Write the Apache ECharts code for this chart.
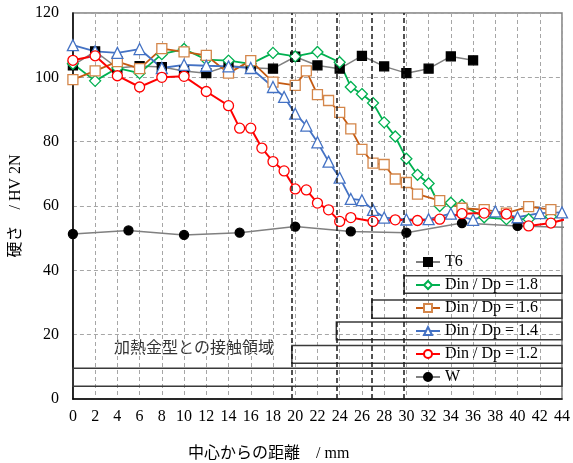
<!DOCTYPE html>
<html>
<head>
<meta charset="utf-8">
<script src="https://cdn.jsdelivr.net/npm/echarts@6/dist/echarts.min.js"></script>
<style>
  html, body { margin: 0; padding: 0; background: #fff; }
  #chart { width: 573px; height: 463px; }
</style>
</head>
<body>
<div id="chart"></div>
<script>
// Hardness profiles along the distance from the centre (mm → HV 2N)
const xT6 = [0, 2, 4, 6, 8, 10, 12, 14, 16, 18, 20, 22, 24, 26, 28, 30, 32, 34, 36];
const hT6 = [103.7, 108.1, 102.9, 103.5, 103.2, 102.0, 101.3, 103.6, 103.0, 102.7, 106.4, 103.7, 102.7, 106.7, 103.4, 101.3, 102.7, 106.5, 105.3];

const x18 = [0, 2, 4, 6, 8, 10, 12, 14, 16, 18, 20, 22, 24, 25, 26, 27, 28, 29, 30, 31, 32, 33, 34, 35, 37, 39, 41, 43];
const h18 = [104.2, 98.9, 102.9, 101.3, 107.2, 108.8, 105.5, 105.2, 104.2, 107.6, 106.5, 107.9, 104.7, 97.0, 94.8, 92.0, 86.0, 81.6, 74.7, 69.7, 67.0, 60.0, 61.0, 60.3, 56.5, 55.9, 55.9, 56.7];

const x16 = [0, 2, 4, 6, 8, 10, 12, 14, 16, 18, 20, 21, 22, 23, 24, 25, 26, 27, 28, 29, 30, 31, 33, 35, 37, 39, 41, 43];
const h16 = [99.3, 102.0, 104.9, 102.7, 108.9, 107.9, 106.8, 101.3, 105.2, 98.5, 97.5, 102.0, 94.6, 92.8, 89.1, 84.0, 77.6, 73.3, 72.9, 68.4, 67.3, 63.7, 61.7, 59.3, 58.9, 57.8, 59.8, 58.9];

const x14 = [0, 2, 4, 6, 8, 10, 12, 14, 16, 18, 19, 20, 21, 22, 23, 24, 25, 26, 27, 28, 30, 32, 34, 36, 38, 40, 42, 44];
const h14 = [110.0, 108.1, 107.6, 108.8, 102.9, 103.9, 103.6, 103.4, 102.9, 97.0, 93.9, 88.7, 85.0, 79.8, 73.8, 68.8, 62.2, 61.8, 58.8, 56.4, 55.8, 55.9, 57.6, 55.7, 58.3, 56.5, 57.8, 58.0];

const x12 = [0, 2, 4, 6, 8, 10, 12, 14, 15, 16, 17, 18, 19, 20, 21, 22, 23, 24, 25, 27, 29, 31, 33, 35, 37, 39, 41, 43, 45];
const h12 = [105.3, 106.7, 100.5, 97.0, 100.0, 100.3, 95.6, 91.2, 84.2, 84.2, 78.0, 73.8, 70.9, 65.3, 65.0, 60.9, 58.8, 55.2, 56.4, 55.2, 55.7, 55.5, 55.9, 57.6, 57.8, 57.5, 53.8, 54.7, 56.5];

const xW = [0, 5, 10, 15, 20, 25, 30, 35, 40, 45];
const hW = [51.3, 52.4, 51.0, 51.7, 53.6, 52.1, 51.7, 54.7, 53.8, 53.3];

// Start of the contact region with the heated die, per Din/Dp ratio (1.2, 1.4, 1.6, 1.8)
const contactStart = [19.7, 23.7, 26.9, 29.8];

const seriesNames = ['T6', 'Din / Dp = 1.8', 'Din / Dp = 1.6', 'Din / Dp = 1.4', 'Din / Dp = 1.2', 'W'];

// Vertical bands (in HV units) of the frames drawn behind the legend rows
const frameBands = {
  'Din / Dp = 1.8': [32.9, 38.3],
  'Din / Dp = 1.6': [25.1, 30.8],
  'Din / Dp = 1.4': [18.4, 23.9],
  'Din / Dp = 1.2': [11.1, 16.6],
  'W': [4.0, 9.55]
};

const pair = (xs, ys) => xs.map((x, i) => [x, ys[i]]);

const serif = '"Liberation Serif", "DejaVu Serif", serif';

function lineSeries(name, xs, ys, lineColor, symbol, size, fill, border, width) {
  return {
    name, type: 'line', data: pair(xs, ys),
    symbol, symbolSize: size,
    lineStyle: { color: lineColor, width: width },
    itemStyle: { color: fill, borderColor: border, borderWidth: 1.3 },
    clip: true, animation: false, z: 3
  };
}

const frames = [
  [{ coord: [contactStart[3], frameBands['Din / Dp = 1.8'][0]] }, { coord: [44, frameBands['Din / Dp = 1.8'][1]] }],
  [{ coord: [contactStart[2], frameBands['Din / Dp = 1.6'][0]] }, { coord: [44, frameBands['Din / Dp = 1.6'][1]] }],
  [{ coord: [contactStart[1], frameBands['Din / Dp = 1.4'][0]] }, { coord: [44, frameBands['Din / Dp = 1.4'][1]] }],
  [{ coord: [contactStart[0], frameBands['Din / Dp = 1.2'][0]] }, { coord: [44, frameBands['Din / Dp = 1.2'][1]] }],
  [{ coord: [0, frameBands['W'][0]] }, { coord: [44, frameBands['W'][1]] }]
];

const chart = echarts.init(document.getElementById('chart'), null, { renderer: 'canvas' });

chart.setOption({
  animation: false,
  backgroundColor: '#fff',
  grid: {
    left: 70, top: 13, right: 9, bottom: 64,
    show: true, borderColor: '#7f7f7f', borderWidth: 1.5, backgroundColor: 'transparent'
  },
  xAxis: {
    type: 'value', min: 0, max: 44, interval: 2,
    axisLine: { show: true, onZero: false, lineStyle: { color: '#000', width: 1.5 } },
    axisTick: { show: false },
    axisLabel: { color: '#000', fontFamily: serif, fontSize: 16, margin: 10 },
    splitLine: { show: true, lineStyle: { color: '#a6a6a6', type: [4, 3], width: 1 } }
  },
  yAxis: {
    type: 'value', min: 0, max: 120, interval: 20,
    name: '硬さ　/ HV 2N', nameLocation: 'middle', nameGap: 45, nameRotate: 90,
    nameTextStyle: { color: '#000', fontFamily: '"Liberation Serif", "Noto Sans CJK JP", serif', fontSize: 16 },
    axisLine: { show: true, onZero: false, lineStyle: { color: '#000', width: 1.5 } },
    axisTick: { show: false },
    axisLabel: { color: '#000', fontFamily: serif, fontSize: 16, margin: 14 },
    splitLine: { show: true, lineStyle: { color: '#a6a6a6', type: [4, 3], width: 1 } }
  },
  legend: {
    data: seriesNames,
    orient: 'vertical', left: 415, top: 254, padding: 0,
    itemWidth: 24, itemHeight: 10, itemGap: 7, itemTextGap: 4,
    textStyle: { color: '#000', fontFamily: serif, fontSize: 16, lineHeight: 16 },
    selectedMode: false
  },
  graphic: [
    {
      type: 'text', left: 114, top: 339, silent: true,
      style: { text: '加熱金型との接触領域', fill: '#333', font: '16px "Noto Sans CJK JP"' }
    },
    {
      type: 'text', left: 188, top: 446, silent: true,
      style: { text: '中心からの距離　/ mm', fill: '#000', font: '16px "Liberation Serif", "Noto Sans CJK JP"' }
    }
  ],
  series: [
    {
      name: 'frames', type: 'line', data: [], silent: true, z: 2,
      markArea: {
        silent: true,
        itemStyle: { color: 'rgba(0,0,0,0)', borderColor: '#3a3a3a', borderWidth: 1.5 },
        label: { show: false },
        data: frames
      },
      markLine: {
        silent: true, symbol: ['none', 'none'],
        label: { show: false },
        lineStyle: { color: '#1a1a1a', type: [5, 3], width: 1.5 },
        data: contactStart.map(x => ({ xAxis: x }))
      }
    },
    lineSeries('W', xW, hW, '#808080', 'circle', 9, '#000', '#000', 1.5),
    lineSeries('T6', xT6, hT6, '#808080', 'rect', 9, '#000', '#000', 1.5),
    lineSeries('Din / Dp = 1.8', x18, h18, '#00b050', 'diamond', 11, '#fff', '#00b050', 1.8),
    lineSeries('Din / Dp = 1.6', x16, h16, '#c55a11', 'rect', 10, '#fff', '#d4864a', 1.8),
    lineSeries('Din / Dp = 1.4', x14, h14, '#4472c4', 'triangle', 11, '#fff', '#4472c4', 1.8),
    lineSeries('Din / Dp = 1.2', x12, h12, '#ff0000', 'circle', 10, '#fff', '#ff0000', 2)
  ]
});
</script>
</body>
</html>
